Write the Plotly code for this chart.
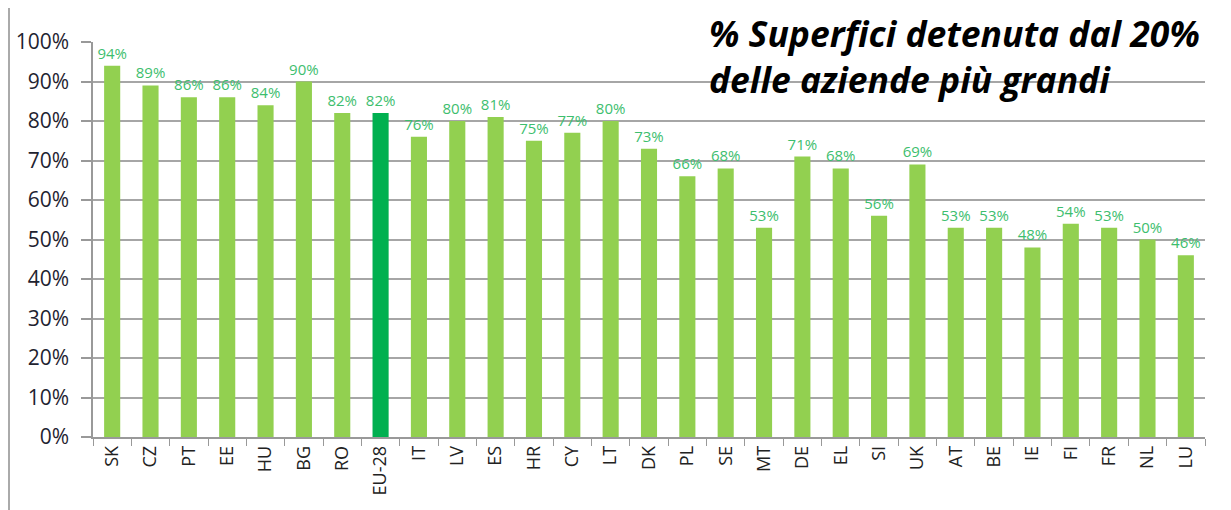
import plotly.graph_objects as go

categories = ["SK","CZ","PT","EE","HU","BG","RO","EU-28","IT","LV","ES","HR","CY","LT",
              "DK","PL","SE","MT","DE","EL","SI","UK","AT","BE","IE","FI","FR","NL","LU"]
values = [94,89,86,86,84,90,82,82,76,80,81,75,77,80,73,66,68,53,71,68,56,69,53,53,48,54,53,50,46]
y_ticks = [0,10,20,30,40,50,60,70,80,90,100]
title_text = "% Superfici detenuta dal 20%<br>delle aziende più grandi"

light = "#92D050"
dark = "#00B050"
colors = [dark if c == "EU-28" else light for c in categories]

L, R, T, B = 85, 34, 34, 81
PW = 1231 - L - R
PH = 510 - T - B

fig = go.Figure(go.Bar(
    x=categories, y=values,
    marker=dict(color=colors, line=dict(width=0)),
    text=[f"{v}%" for v in values],
    textposition="outside",
    constraintext="none",
    textfont=dict(family="Open Sans", size=15, color="#3DBE6E"),
    cliponaxis=False,
))

fig.update_layout(
    width=1231, height=510,
    margin=dict(l=L, r=R, t=T, b=B, autoexpand=False),
    plot_bgcolor="white", paper_bgcolor="white",
    bargap=0.58,
    showlegend=False,
    font=dict(family="Open Sans", color="#333333"),
    xaxis=dict(
        type="category", tickson="boundaries", ticks="outside", ticklen=7,
        tickcolor="#999999", showline=True, linecolor="#999999", linewidth=1.5,
        tickangle=-90, tickfont=dict(size=18, color="#222222"), showgrid=False,
        automargin=False,
    ),
    yaxis=dict(
        range=[0, 100], tickvals=y_ticks, ticktext=[f"{t}%" for t in y_ticks],
        showgrid=True, gridcolor="#A6A6A6", gridwidth=1.5,
        showline=True, linecolor="#999999", linewidth=1.5,
        ticks="outside", ticklen=10, tickcolor="#999999", tickwidth=1.5,
        ticklabelstandoff=8,
        tickfont=dict(size=21, color="#1F2330"), zeroline=False,
        automargin=False,
    ),
    annotations=[dict(
        text=f"<b><i>{title_text}</i></b>", xref="paper", yref="paper",
        x=0, y=1.0, xanchor="left", yanchor="top",
        xshift=700 - L, yshift=34, borderpad=0,
        align="left", showarrow=False,
        font=dict(family="Open Sans", size=35.5, color="black"),
    )],
    shapes=[
        dict(type="line", xref="paper", yref="paper", x0=(1 - L)/PW, x1=(1 - L)/PW,
             y0=-B/PH, y1=1 + T/PH, line=dict(color="#AAAAAA", width=2)),
        dict(type="rect", xref="paper", yref="paper", x0=(361 - L)/PW, x1=(371 - L)/PW,
             y0=1 + 36/PH, y1=1 + 44/PH, fillcolor="#555555", line=dict(width=0)),
    ],
)

fig.write_html("out.html")
